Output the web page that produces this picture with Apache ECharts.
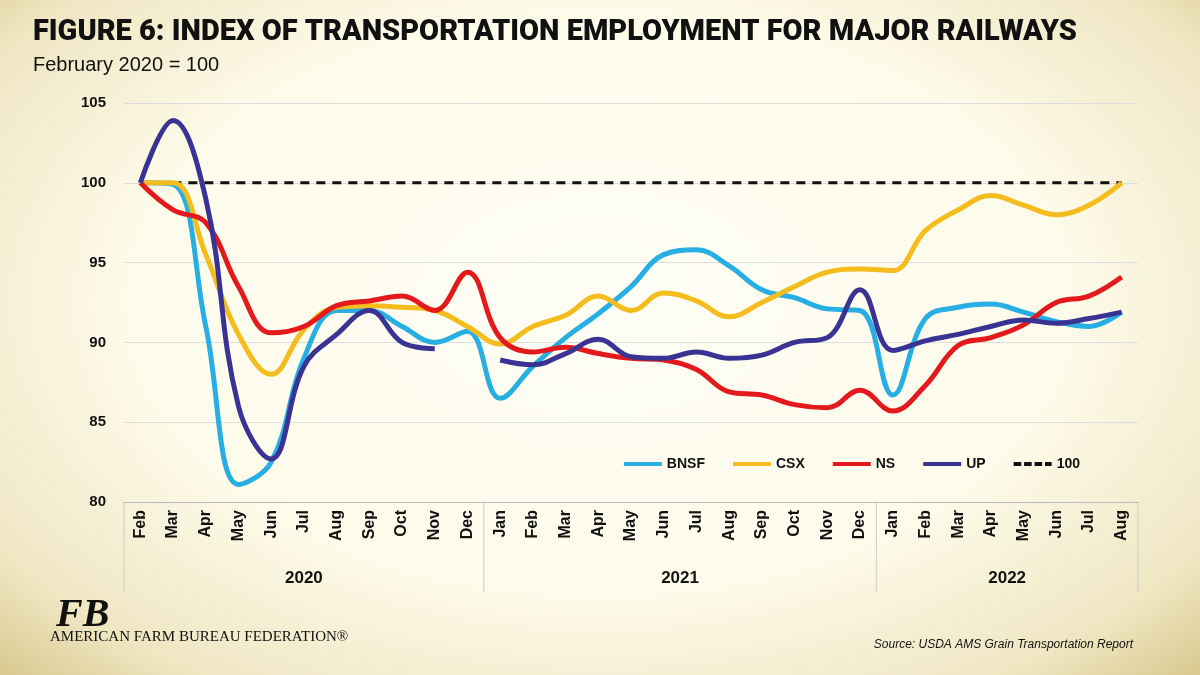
<!DOCTYPE html>
<html><head><meta charset="utf-8">
<script src="https://cdn.jsdelivr.net/npm/echarts@6/dist/echarts.min.js"></script>
<style>
html,body{margin:0;padding:0;width:1200px;height:675px;overflow:hidden;
background:radial-gradient(ellipse at 50% 45%,#fffef6 0%,#fdfbea 55%,#efe6c2 85%,#d9c98f 100%);}
#c{width:1200px;height:675px;position:absolute;left:0;top:0}
</style></head><body><div id="c"></div>
<script>
const months = ['Feb','Mar','Apr','May','Jun','Jul','Aug','Sep','Oct','Nov','Dec',
  'Jan','Feb','Mar','Apr','May','Jun','Jul','Aug','Sep','Oct','Nov','Dec',
  'Jan','Feb','Mar','Apr','May','Jun','Jul','Aug'];
const years = [{name:'2020',from:0,to:10},{name:'2021',from:11,to:22},{name:'2022',from:23,to:30}];
const bnsf = [100,99.9,91,81.1,82.5,89,92,92,91,90,90.7,86.5,88.5,90.3,91.8,93.5,95.5,95.8,94.8,93.3,92.8,92.1,92,86.7,91.5,92.2,92.4,91.9,91.3,91,91.9];
const csx = [100,100,95.5,90.5,88,90.8,92.2,92.3,92.2,92,91,89.9,91,91.7,92.9,92,93.1,92.6,91.6,92.5,93.5,94.4,94.6,94.5,97,98.3,99.2,98.6,98,98.6,100];
const ns = [100,98.3,97.5,93.5,90.6,91,92.3,92.6,92.9,92,94.4,90.3,89.4,89.7,89.3,89,88.9,88.3,86.9,86.7,86.1,85.9,87,85.7,87.3,89.8,90.3,91.1,92.5,92.9,94.1];
const up = [100,103.9,99,86,82.7,88.5,90.5,92,90,89.6,null,88.9,88.6,89.3,90.2,89.1,89,89.4,89,89.2,90,90.3,93.3,89.5,90.1,90.5,91,91.4,91.2,91.5,91.9];
const base = months.map(() => 100);

const chart = echarts.init(document.getElementById('c'));
const ln = (name, data, color) => ({name, type:'line', data, smooth:0.4, symbol:'none',
  lineStyle:{color, width:5}, itemStyle:{color}});
chart.setOption({
  animation:false,
  title:[{text:'FIGURE 6: INDEX OF TRANSPORTATION EMPLOYMENT FOR MAJOR RAILWAYS',left:28,top:13,
    textStyle:{fontFamily:'Roboto',fontWeight:900,fontSize:29,color:'#111'}},
    {text:'February 2020 = 100',left:28,top:50,textStyle:{fontFamily:'Liberation Sans',fontWeight:'normal',fontSize:20,color:'#111'}},
    {text:'Source: USDA AMS Grain Transportation Report',right:62,top:634,
    textStyle:{fontFamily:'Liberation Sans',fontStyle:'italic',fontWeight:'normal',fontSize:12,color:'#111'}}],
  legend:{right:115,top:452,itemWidth:38,itemHeight:4,itemGap:28,icon:'path://M0,0H40V4H0Z',
    textStyle:{fontFamily:'Liberation Sans',fontWeight:'bold',fontSize:14,color:'#111'},
    data:['BNSF','CSX','NS','UP',{name:'100',icon:'path://M0,0H8V4H0ZM11,0H19V4H11ZM22,0H30V4H22ZM33,0H40V4H33Z'}]},
  grid:{left:124,right:62,top:103,bottom:173},
  xAxis:{type:'category',data:months,boundaryGap:true,
    axisLine:{lineStyle:{color:'#bbb'}},axisTick:{show:false},
    axisLabel:{rotate:90,interval:0,fontFamily:'Liberation Sans',fontWeight:'bold',fontSize:16,color:'#111'}},
  yAxis:{type:'value',min:80,max:105,interval:5,axisLine:{show:false},axisTick:{show:false},
    splitLine:{lineStyle:{color:'#ddd'}},
    axisLabel:{fontFamily:'Liberation Sans',fontWeight:'bold',fontSize:15,color:'#111',margin:18}},
  series:[ln('BNSF',bnsf,'#27aee3'),ln('CSX',csx,'#f4bc1c'),ln('NS',ns,'#e3191b'),ln('UP',up,'#3a3393'),
    {name:'100',type:'line',data:base,symbol:'none',lineStyle:{color:'#111',width:3,type:[9,7]},itemStyle:{color:'#111'},z:1}]
});

// year grouping under the month labels, placed with the axis scale
const g = [];
const yAx = 502, yBot = 592;
const px = i => chart.convertToPixel({xAxisIndex:0}, i);
const half = (px(1) - px(0)) / 2;
const edges = [px(0) - half].concat(years.map(y => px(y.to) + half));
edges.forEach(x => g.push({type:'line',shape:{x1:x,y1:yAx,x2:x,y2:yBot},style:{stroke:'#ccc',lineWidth:1}}));
years.forEach(y => {
  const cx = (px(y.from) + px(y.to)) / 2;
  g.push({type:'text',x:cx,y:578,style:{text:y.name,textAlign:'center',textVerticalAlign:'middle',
    font:'bold 17px "Liberation Sans"',fill:'#111'}});
});
g.push({type:'text',x:56,y:596,style:{text:'FB',font:'italic 900 40px "Liberation Serif"',fill:'#111'}});
g.push({type:'text',x:50,y:630,style:{text:'AMERICAN FARM BUREAU FEDERATION\u00ae',font:'15px "Liberation Serif"',fill:'#111'}});
chart.setOption({graphic:g});
</script></body></html>
